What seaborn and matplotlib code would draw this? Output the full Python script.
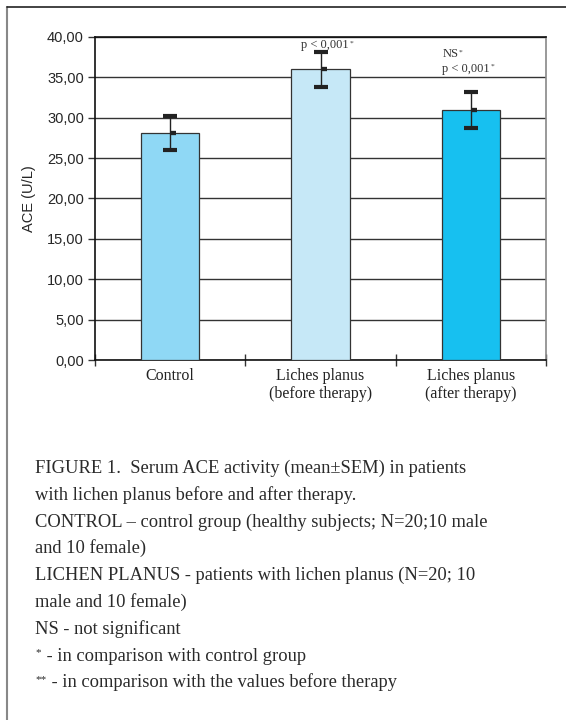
import matplotlib
matplotlib.use("Agg")
import matplotlib.pyplot as plt
from matplotlib.lines import Line2D
import seaborn as sns
import pandas as pd
import numpy as np

categories = ["Control", "Liches planus\n(before therapy)", "Liches planus\n(after therapy)"]
means = [28.1, 36.0, 31.0]
sem = [2.1, 2.15, 2.25]
colors = ["#8fd8f5", "#c6e8f7", "#17c0f0"]
yticks = [0, 5, 10, 15, 20, 25, 30, 35, 40]
caption = [
    "FIGURE 1.  Serum ACE activity (mean\u00b1SEM) in patients",
    "with lichen planus before and after therapy.",
    "CONTROL \u2013 control group (healthy subjects; N=20;10 male",
    "and 10 female)",
    "LICHEN PLANUS - patients with lichen planus (N=20; 10",
    "male and 10 female)",
    "NS - not significant",
]
footnotes = [("*", " - in comparison with control group"),
             ("**", " - in comparison with the values before therapy")]

sns.set_style("white")
plt.rcParams["font.family"] = ["Liberation Sans", "DejaVu Sans"]

fig = plt.figure(figsize=(5.66, 7.2), dpi=100)
ax = fig.add_axes([95/566, 1-360/720, (546-95)/566, (360-37)/720])

df = pd.DataFrame({"cat": categories, "val": means})
sns.barplot(data=df, x="cat", y="val", hue="cat", palette=colors, errorbar=None,
            saturation=1, width=0.39, edgecolor="#333333", linewidth=0.9,
            legend=False, ax=ax, zorder=3)
ax.errorbar(np.arange(3), means, yerr=sem, fmt="none", ecolor="#222222",
            elinewidth=1.0, capsize=5, capthick=3, zorder=4)
# mean marks on the error bars
ax.errorbar(np.arange(3) + 0.02, means, yerr=0, fmt="none", ecolor="#222222",
            elinewidth=0, capsize=2.5, capthick=3, zorder=4)

ax.set_ylim(0, 40)
ax.set_xlim(-0.5, 2.5)
ax.set_yticks(yticks)
ax.set_yticklabels([f"{v:.2f}".replace(".", ",") for v in yticks], fontsize=10.5)
ax.yaxis.grid(True, color="#333333", linewidth=1.0, zorder=0)
ax.set_axisbelow(True)
ax.tick_params(axis="y", direction="out", length=5, width=1, color="#333333", left=True, pad=3)
ax.set_ylabel("ACE (U/L)", fontsize=10.5, labelpad=8)
ax.set_xlabel("")
ax.set_xticks([0, 1, 2])
ax.set_xticklabels(categories, fontsize=11.5, family=["Liberation Serif"], linespacing=1.15, color="#222222")
ax.tick_params(axis="x", length=0, pad=6)
ax.set_xticks([-0.5, 0.5, 1.5, 2.5], minor=True)
ax.tick_params(axis="x", which="minor", direction="inout", length=8, width=1, color="#333333", bottom=True)
for s in ["left", "bottom", "top"]:
    ax.spines[s].set_color("#111111")
    ax.spines[s].set_linewidth(1.2)
ax.spines["right"].set_color("#888888")
ax.spines["right"].set_linewidth(1.2)

serif = ["Liberation Serif", "DejaVu Serif"]
def sup_text(x, y, main, star, fs):
    t = ax.text(x, y, main, fontsize=fs, family=serif, ha="left", va="baseline", color="#333333")
    fig.canvas.draw()
    bb = t.get_window_extent()
    inv = ax.transData.inverted()
    xe = inv.transform((bb.x1, bb.y0))[0]
    ax.text(xe + 0.005, y + 0.45, star, fontsize=fs*0.6, family=serif, ha="left", va="baseline", color="#333333")

sup_text(0.87, 38.6, "p < 0,001", "*", 9)
sup_text(1.81, 37.5, "NS", "*", 9)
sup_text(1.81, 35.7, "p < 0,001", "*", 9)

# frame lines
fig.add_artist(Line2D([7/566, 7/566], [0, 1-7/720], color="#888888", lw=1.5))
fig.add_artist(Line2D([7/566, 1], [1-7/720, 1-7/720], color="#222222", lw=1.2))

y0 = 1 - 473/720
dy = 26.8/720
fsz = 13.3
for i, line in enumerate(caption):
    fig.text(35/566, y0 - i*dy, line, fontsize=fsz, family=serif, color="#2a2a2a", va="baseline")
for j, (star, txt) in enumerate(footnotes):
    yy = y0 - (len(caption)+j)*dy
    s = fig.text(35/566, yy + 5/720, star, fontsize=fsz*0.6, family=serif, color="#2a2a2a", va="baseline")
    fig.canvas.draw()
    bb = s.get_window_extent()
    fig.text(bb.x1/566 + 1/566, yy, txt, fontsize=fsz, family=serif, color="#2a2a2a", va="baseline")

fig.savefig("out.png", dpi=100)
